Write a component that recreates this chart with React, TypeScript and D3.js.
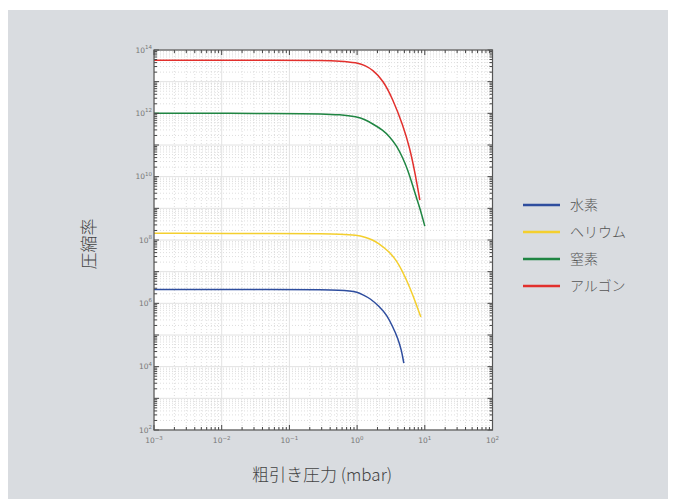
import React from "react";
import * as d3 from "d3";

// pressure (mbar) / compression ratio
const hydrogenP = [0.001, 0.1, 0.31, 0.55, 0.78, 1.0, 1.21, 1.54, 2.16, 2.75, 3.37, 3.99, 4.53, 4.9];
const hydrogenK = [2.75e6, 2.75e6, 2.69e6, 2.61e6, 2.48e6, 2.26e6, 1.88e6, 1.46e6, 7.75e5, 4.24e5, 1.81e5, 7.94e4, 3.32e4, 1.29e4];

const heliumP = [0.001, 0.1, 0.31, 0.55, 1.0, 1.3, 1.71, 2.02, 3.04, 3.86, 4.74, 5.62, 6.66, 7.64, 8.75];
const heliumK = [1.62e8, 1.62e8, 1.58e8, 1.54e8, 1.43e8, 1.24e8, 9.9e7, 8.2e7, 4.15e7, 2.15e7, 9.7e6, 4.35e6, 1.82e6, 8.2e5, 3.67e5];

const nitrogenP = [0.001, 0.1, 0.31, 0.55, 1.0, 1.3, 1.71, 2.4, 3.04, 3.86, 4.74, 5.62, 6.66, 7.64, 8.45, 10];
const nitrogenK = [1e12, 1e12, 9.65e11, 9.1e11, 7.8e11, 6.4e11, 4.6e11, 2.97e11, 1.82e11, 9.3e10, 3.87e10, 1.62e10, 5.05e9, 1.96e9, 1.02e9, 2.75e8];

const argonP = [0.001, 0.1, 0.31, 0.55, 1.0, 1.3, 1.71, 2.4, 3.37, 4.74, 6.01, 7.13, 8.45];
const argonK = [4.73e13, 4.73e13, 4.66e13, 4.49e13, 3.97e13, 3.29e13, 2.33e13, 1.13e13, 2.83e12, 4.27e11, 8.0e10, 1.4e10, 1.82e9];

const series = [
  { name: "水素", color: "#2e4d9e", p: hydrogenP, k: hydrogenK },
  { name: "ヘリウム", color: "#f4cf2e", p: heliumP, k: heliumK },
  { name: "窒素", color: "#1f8542", p: nitrogenP, k: nitrogenK },
  { name: "アルゴン", color: "#e2302d", p: argonP, k: argonK },
];

const xExps = [-3, -2, -1, 0, 1, 2];
const yExps = [2, 4, 6, 8, 10, 12, 14];

const W = 676;
const H = 499;
const left = 154;
const right = 492.5;
const top = 50;
const bottom = 430;
const jp = "'Noto Sans CJK JP', 'Noto Sans', sans-serif";

export default function App() {
  const x = d3.scaleLog().domain([1e-3, 1e2]).range([left, right]);
  const y = d3.scaleLog().domain([1e2, 1e14]).range([bottom, top]);

  const xMinor: number[] = [];
  for (let e = -3; e < 2; e++) for (let m = 2; m <= 9; m++) xMinor.push(m * Math.pow(10, e));
  const xMajor = d3.range(-3, 3).map((e) => Math.pow(10, e));
  const yMinor: number[] = [];
  for (let e = 2; e < 14; e++) for (let m = 2; m <= 9; m++) yMinor.push(m * Math.pow(10, e));
  const yMajor = d3.range(2, 15).map((e) => Math.pow(10, e));

  const line = d3
    .line<[number, number]>()
    .x((d) => x(d[0]))
    .y((d) => y(d[1]))
    .curve(d3.curveBasis);

  return (
    <div style={{ position: "absolute", left: 0, top: 0 }}>
      <svg width={W} height={H} style={{ display: "block" }}>
        <rect x={0} y={0} width={W} height={H} fill="#ffffff" />
        <rect x={8} y={10} width={660} height={H - 10} fill="#d9dce0" />
        <rect x={left} y={top} width={right - left} height={bottom - top} fill="#ffffff" />

        {/* minor grid */}
        <g stroke="#c8c8c8" strokeWidth={0.6} strokeDasharray="1,2">
          {xMinor.map((v, i) => (
            <line key={"xm" + i} x1={x(v)} x2={x(v)} y1={top} y2={bottom} />
          ))}
          {yMinor.map((v, i) => (
            <line key={"ym" + i} x1={left} x2={right} y1={y(v)} y2={y(v)} />
          ))}
        </g>
        {/* major grid */}
        <g stroke="#e2e2e2" strokeWidth={1}>
          {xMajor.map((v, i) => (
            <line key={"xM" + i} x1={x(v)} x2={x(v)} y1={top} y2={bottom} />
          ))}
          {yMajor.map((v, i) => (
            <line key={"yM" + i} x1={left} x2={right} y1={y(v)} y2={y(v)} />
          ))}
        </g>

        {/* curves */}
        {series.map((s) => (
          <path
            key={s.name}
            d={line(s.p.map((p, i) => [p, s.k[i]] as [number, number])) || ""}
            fill="none"
            stroke={s.color}
            strokeWidth={1.5}
          />
        ))}

        {/* ticks on all four sides */}
        <g stroke="#444" strokeWidth={1}>
          {xMinor.map((v, i) => (
            <g key={"xt" + i}>
              <line x1={x(v)} x2={x(v)} y1={bottom} y2={bottom - 3} />
              <line x1={x(v)} x2={x(v)} y1={top} y2={top + 3} />
            </g>
          ))}
          {xMajor.map((v, i) => (
            <g key={"xT" + i}>
              <line x1={x(v)} x2={x(v)} y1={bottom} y2={bottom - 5} />
              <line x1={x(v)} x2={x(v)} y1={top} y2={top + 5} />
            </g>
          ))}
          {yMinor.map((v, i) => (
            <g key={"yt" + i}>
              <line x1={left} x2={left + 3} y1={y(v)} y2={y(v)} />
              <line x1={right} x2={right - 3} y1={y(v)} y2={y(v)} />
            </g>
          ))}
          {yMajor.map((v, i) => (
            <g key={"yT" + i}>
              <line x1={left} x2={left + 5} y1={y(v)} y2={y(v)} />
              <line x1={right} x2={right - 5} y1={y(v)} y2={y(v)} />
            </g>
          ))}
        </g>
        <rect x={left} y={top} width={right - left} height={bottom - top} fill="none" stroke="#555" strokeWidth={1.2} />

        {/* tick labels */}
        <g fill="#777" fontFamily="'DejaVu Sans', sans-serif" fontSize={7.5}>
          {xExps.map((e) => (
            <text key={"xl" + e} x={x(Math.pow(10, e))} y={443} textAnchor="middle">
              10<tspan dy={-3.5} fontSize={5.5}>{e < 0 ? "−" + -e : e}</tspan>
            </text>
          ))}
          {yExps.map((e) => (
            <text key={"yl" + e} x={left - 2} y={y(Math.pow(10, e)) + 2.5} textAnchor="end">
              10<tspan dy={-3.5} fontSize={5.5}>{e}</tspan>
            </text>
          ))}
        </g>

        {/* axis titles */}
        <text x={322} y={481} textAnchor="middle" fontFamily={jp} fontWeight={300} fontSize={17} fill="#444">
          粗引き圧力 (mbar)
        </text>
        <text
          transform={`translate(95,${(top + bottom) / 2 + 4}) rotate(-90)`}
          textAnchor="middle"
          fontFamily={jp}
          fontWeight={300}
          fontSize={17}
          fill="#444"
        >
          圧縮率
        </text>

        {/* legend */}
        {series.map((s, i) => (
          <g key={"lg" + s.name} transform={`translate(0,${205 + i * 27})`}>
            <line x1={523} x2={560} y1={0} y2={0} stroke={s.color} strokeWidth={2.5} />
            <text x={570} y={5} fontFamily={jp} fontWeight={300} fontSize={14} fill="#555">
              {s.name}
            </text>
          </g>
        ))}
      </svg>
    </div>
  );
}
